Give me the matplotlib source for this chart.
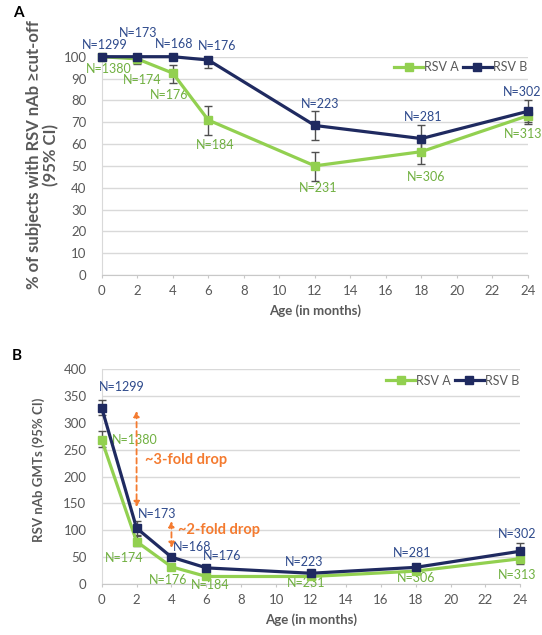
import matplotlib
matplotlib.use('Agg')
import matplotlib.pyplot as plt

# --- data ---
months = [0, 2, 4, 6, 12, 18, 24]

# panel A: % of subjects with nAb >= cut-off
pct_a = [100, 99, 92.5, 71, 50, 56.5, 73]
pct_a_lo = [100, 96.5, 88, 64, 43, 51, 69]
pct_a_hi = [100, 100, 96, 77.5, 56.5, 62, 76]
pct_b = [100, 100, 100, 98.5, 68.5, 62.5, 75]
pct_b_lo = [100, 99, 99, 95, 62, 57, 70]
pct_b_hi = [100, 100, 100, 100, 75, 68.5, 80]

# panel B: GMTs
gmt_a = [268, 79, 32, 14, 14, 24, 47]
gmt_a_lo = [254, 70, 28, 12, 12, 20, 38]
gmt_a_hi = [284, 90, 37, 17, 17, 28, 56]
gmt_b = [328, 104, 50, 30, 20, 31, 61]
gmt_b_lo = [314, 92, 44, 26, 17, 25, 47]
gmt_b_hi = [342, 118, 56, 34, 24, 38, 76]

n_a = ["N=1380", "N=174", "N=176", "N=184", "N=231", "N=306", "N=313"]
n_b = ["N=1299", "N=173", "N=168", "N=176", "N=223", "N=281", "N=302"]

GREEN = '#92d050'
NAVY = '#1f2a60'
GREEN_TXT = '#70b040'
NAVY_TXT = '#2e4a8c'
GRAY = '#595959'
ORANGE = '#f47b30'

plt.rcParams['font.family'] = ['Lato', 'DejaVu Sans']

fig = plt.figure(figsize=(5.42, 6.35), dpi=100)
axA = fig.add_axes([0.1876, 0.5669, 0.7865, 0.3438])
axB = fig.add_axes([0.1876, 0.0803, 0.7725, 0.3386])


def style(ax, ylim, yticks):
    ax.set_xlim(0, 24)
    ax.set_ylim(*ylim)
    ax.set_xticks(range(0, 25, 2))
    ax.set_yticks(yticks)
    ax.grid(axis='y', color='#d9d9d9', lw=1)
    ax.set_axisbelow(True)
    for s in ['top', 'right']:
        ax.spines[s].set_visible(False)
    ax.spines['bottom'].set_color('#c8c8c8')
    ax.spines['left'].set_color('#d9d9d9')
    ax.tick_params(axis='x', colors='#c8c8c8', labelcolor=GRAY, labelsize=9.5,
                   length=2.5, pad=5)
    ax.tick_params(axis='y', length=0, labelcolor=GRAY, labelsize=9.5, pad=11)
    ax.set_xlabel("Age (in months)", fontsize=9.5, fontweight='bold', color=GRAY, labelpad=5)


def series(ax, y, lo, hi, color, label):
    yerr = [[v - l for v, l in zip(y, lo)], [h - v for v, h in zip(y, hi)]]
    ax.errorbar(months, y, yerr=yerr, fmt='none', ecolor='#505050', elinewidth=1,
                capsize=3, capthick=1, zorder=3, clip_on=False)
    ax.plot(months, y, color=color, lw=2.3, marker='s', ms=5.5, label=label,
            zorder=4, clip_on=False)


leg_kw = dict(ncol=2, frameon=False, fontsize=9, handlelength=2.3,
              columnspacing=0.3, handletextpad=0.1, borderpad=0, borderaxespad=0,
              labelcolor=GRAY, loc='center right')

# panel A
style(axA, (0, 100), range(0, 101, 10))
series(axA, pct_a, pct_a_lo, pct_a_hi, GREEN, 'RSV A')
series(axA, pct_b, pct_b_lo, pct_b_hi, NAVY, 'RSV B')
axA.set_ylabel("% of subjects with RSV nAb \u2265cut-off\n(95% CI)", fontsize=12,
               fontweight='bold', color=GRAY, linespacing=1.05)
axA.yaxis.set_label_coords(-0.1, 0.55)

posA_b = [(0.18, 105.5), (2.05, 111), (4.1, 106), (6.5, 105), (12.3, 78.5), (18.1, 72.6), (23.65, 84)]
posA_a = [(0.4, 94.5), (2.3, 89.5), (3.8, 82.6), (6.4, 59.4), (12.2, 40), (18.25, 44.8), (23.7, 64.4)]
for t, (x, y) in zip(n_b, posA_b):
    axA.text(x, y, t, color=NAVY_TXT, fontsize=9, ha='center', va='center', clip_on=False)
for t, (x, y) in zip(n_a, posA_a):
    axA.text(x, y, t, color=GREEN_TXT, fontsize=9, ha='center', va='center', clip_on=False)

axA.legend(bbox_to_anchor=(0.998, 0.953), **leg_kw)

# panel B
style(axB, (0, 400), range(0, 401, 50))
series(axB, gmt_a, gmt_a_lo, gmt_a_hi, GREEN, 'RSV A')
series(axB, gmt_b, gmt_b_lo, gmt_b_hi, NAVY, 'RSV B')
axB.set_ylabel("RSV nAb GMTs (95% CI)", fontsize=9.5, fontweight='bold', color=GRAY)
axB.yaxis.set_label_coords(-0.135, 0.53)

posB_b = [(1.13, 366), (3.2, 130), (5.2, 69), (6.9, 52), (11.6, 41), (17.8, 57), (23.8, 93)]
posB_a = [(1.9, 268), (1.3, 48), (3.8, 7), (6.2, -2), (11.7, 1), (18.05, 11), (23.8, 17)]
for t, (x, y) in zip(n_b, posB_b):
    axB.text(x, y, t, color=NAVY_TXT, fontsize=9, ha='center', va='center', clip_on=False)
for t, (x, y) in zip(n_a, posB_a):
    axB.text(x, y, t, color=GREEN_TXT, fontsize=9, ha='center', va='center', clip_on=False)

axB.legend(bbox_to_anchor=(0.997, 0.945), **leg_kw)

# fold-drop arrows
arrow = dict(arrowstyle='<|-|>', color=ORANGE, lw=1.3, ls=(0, (3, 2)),
             mutation_scale=8, shrinkA=0, shrinkB=0)
axB.annotate('', xy=(2, 143), xytext=(2, 322), arrowprops=arrow)
axB.annotate('', xy=(4, 67), xytext=(4, 117), arrowprops=arrow)
axB.text(2.5, 231, "~3-fold drop", color=ORANGE, fontsize=10.5, fontweight='bold', va='center')
axB.text(4.35, 101, "~2-fold drop", color=ORANGE, fontsize=10.5, fontweight='bold', va='center')

fig.text(0.025, 0.979, "A", fontsize=11, fontweight='bold', va='center')
fig.text(0.022, 0.44, "B", fontsize=11, fontweight='bold', va='center')

fig.savefig("out.png", dpi=100, facecolor='white')
